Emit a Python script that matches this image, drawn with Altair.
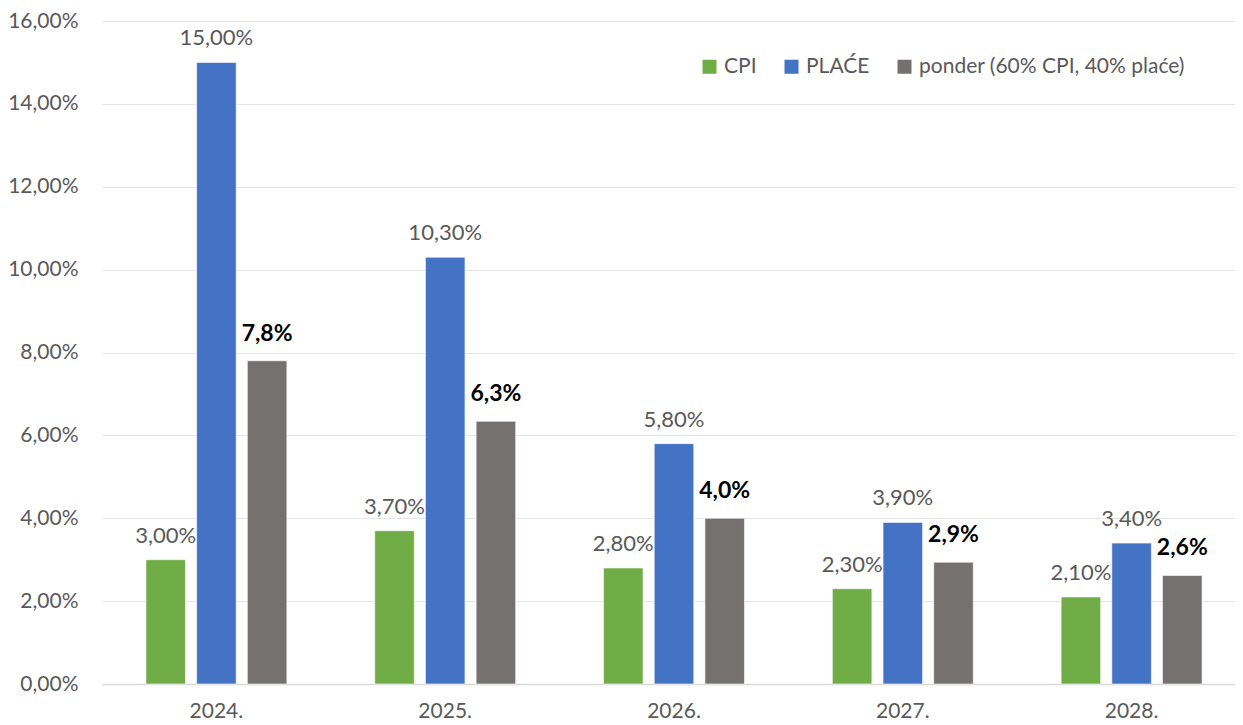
import altair as alt
import pandas as pd

years = ["2024.", "2025.", "2026.", "2027.", "2028."]
cpi = [3.0, 3.7, 2.8, 2.3, 2.1]
place = [15.0, 10.3, 5.8, 3.9, 3.4]
ponder = [7.8, 6.34, 4.0, 2.94, 2.62]
series = ["CPI", "PLAĆE", "ponder (60% CPI, 40% plaće)"]
colors = ["#70AD47", "#4472C4", "#767171"]
y_ticks = [0, 2, 4, 6, 8, 10, 12, 14, 16]

FONT = "Lato"


def fmt(v, d):
    return f"{v:.{d}f}".replace(".", ",") + "%"


rows = []
for i, yr in enumerate(years):
    rows.append({"year": yr, "series": series[0], "value": cpi[i], "label": fmt(cpi[i], 2), "bold": 0})
    rows.append({"year": yr, "series": series[1], "value": place[i], "label": fmt(place[i], 2), "bold": 0})
    rows.append({"year": yr, "series": series[2], "value": ponder[i], "label": fmt(ponder[i], 1), "bold": 1})
df = pd.DataFrame(rows)

base = alt.Chart(df).encode(
    x=alt.X(
        "year:N",
        sort=years,
        scale=alt.Scale(paddingInner=0.384, paddingOuter=0.192, range=[0, 1144]),
        axis=alt.Axis(
            title=None, labelAngle=0, ticks=False, domainColor="#d9d9d9", domainWidth=1.5,
            labelFont=FONT, labelFontSize=21, labelColor="#595959", labelPadding=16,
        ),
    ),
    xOffset=alt.XOffset("series:N", sort=series, scale=alt.Scale(paddingInner=0.22)),
    y=alt.Y(
        "value:Q",
        scale=alt.Scale(domain=[0, 16], nice=False),
        axis=alt.Axis(
            values=y_ticks, title=None, ticks=False, domain=False,
            labelExpr="replace(format(datum.value, '.2f'), '.', ',') + '%'",
            gridColor="#e6e6e6", gridWidth=1.2,
            labelFont=FONT, labelFontSize=21, labelColor="#595959", labelPadding=24,
        ),
    ),
)

bars = base.mark_bar(stroke="white", strokeWidth=0.6).encode(
    color=alt.Color(
        "series:N",
        sort=series,
        scale=alt.Scale(domain=series, range=colors),
        legend=alt.Legend(
            title=None, orient="none", direction="horizontal", legendX=597, legendY=35,
            symbolType="square", symbolSize=196, symbolStrokeWidth=0,
            labelFont=FONT, labelFontSize=21, labelColor="#595959", labelLimit=0,
            labelOffset=4, columnPadding=24,
        ),
    )
)

normal_text = base.transform_filter("datum.bold == 0").mark_text(
    font=FONT, fontSize=22, color="#595959", baseline="alphabetic", dy=-17
).encode(text="label:N")

bold_text = base.transform_filter("datum.bold == 1").mark_text(
    font=FONT, fontSize=23, fontWeight="bold", color="#000000", baseline="alphabetic", dy=-20
).encode(text="label:N")

chart = (
    alt.layer(bars, normal_text, bold_text)
    .properties(
        width=1133, height=663,
        autosize=alt.AutoSizeParams(type="none"),
        padding={"left": 94, "top": 13, "right": 0, "bottom": 42},
    )
    .configure_view(stroke=None)
)

chart.save("out.html", embed_options={"renderer": "svg", "actions": False})
